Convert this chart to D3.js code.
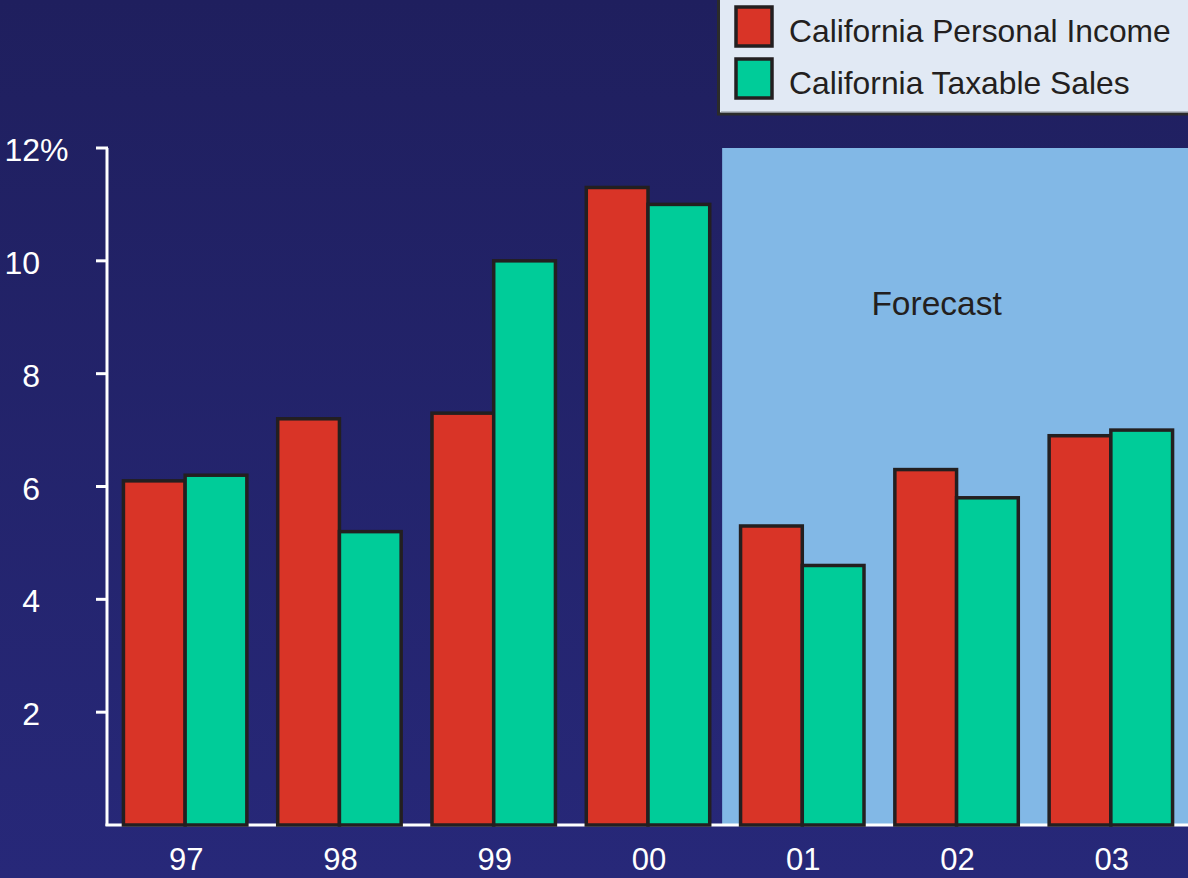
<!DOCTYPE html>
<html>
<head>
<meta charset="utf-8">
<script src="https://cdn.jsdelivr.net/npm/d3@7"></script>
<style>
html,body{margin:0;padding:0;background:#212162;}
svg{display:block;font-family:Arial,"Liberation Sans",sans-serif;}
</style>
</head>
<body>
<svg id="chart" width="1188" height="878"></svg>
<script>
const years = ["97","98","99","00","01","02","03"];
const seriesNames = ["California Personal Income","California Taxable Sales"];
const personalIncome = [6.1, 7.2, 7.3, 11.3, 5.3, 6.3, 6.9];
const taxableSales = [6.2, 5.2, 10.0, 11.0, 4.6, 5.8, 7.0];
const yTicks = [2, 4, 6, 8, 10, 12];
const forecastStart = "01";

const colors = ["#d93427", "#00cc99"];
const W = 1188, H = 878;
const margin = {left: 108, right: 0, top: 148, bottom: 53};

const svg = d3.select("#chart");
const defs = svg.append("defs");
const grad = defs.append("linearGradient").attr("id","bg").attr("x1",0).attr("y1",0).attr("x2",0).attr("y2",1);
grad.append("stop").attr("offset","0%").attr("stop-color","#1f1f5e");
grad.append("stop").attr("offset","100%").attr("stop-color","#272879");
svg.append("rect").attr("width",W).attr("height",H).attr("fill","url(#bg)");

const x0 = d3.scaleBand().domain(years).range([margin.left, W - margin.right]).paddingInner(0.2).paddingOuter(0.1);
const x1 = d3.scaleBand().domain([0,1]).range([0, x0.bandwidth()]);
const y = d3.scaleLinear().domain([0, 12]).range([H - margin.bottom, margin.top]);

// Forecast region
const fi = years.indexOf(forecastStart);
const fx = (x0(forecastStart) + x0(years[fi-1]) + x0.bandwidth()) / 2 - 3;
svg.append("rect").attr("x", fx).attr("y", y(12)).attr("width", W - fx).attr("height", y(0) - y(12)).attr("fill", "#82b8e6");
svg.append("text").attr("x", x0(years[fi+1]) + x0.bandwidth() / 2 - 20).attr("y", y(12) + 167).attr("text-anchor","middle")
  .attr("font-size", 33.5).attr("fill","#231f20").text("Forecast");

// Axes
const axisColor = "#ffffff";
svg.append("line").attr("x1", margin.left - 1).attr("x2", margin.left - 1).attr("y1", y(12)).attr("y2", y(0) + 1)
  .attr("stroke", axisColor).attr("stroke-width", 3);
svg.append("line").attr("x1", margin.left - 2.5).attr("x2", W).attr("y1", y(0)).attr("y2", y(0))
  .attr("stroke", axisColor).attr("stroke-width", 3);
const yAxis = svg.append("g");
yTicks.forEach(t => {
  yAxis.append("line").attr("x1", margin.left - 12).attr("x2", margin.left).attr("y1", y(t)).attr("y2", y(t))
    .attr("stroke", axisColor).attr("stroke-width", 3);
  yAxis.append("text").attr("x", 40).attr("y", y(t) + 13).attr("text-anchor","end")
    .attr("font-size", 32).attr("fill", axisColor).text(t);
  if (t === 12) {
    yAxis.append("text").attr("x", 40).attr("y", y(t) + 13).attr("text-anchor","start")
      .attr("font-size", 32).attr("fill", axisColor).text("%");
  }
});

// Bars
const data = years.map((yr, i) => ({yr, vals: [personalIncome[i], taxableSales[i]]}));
const groups = svg.append("g").selectAll("g").data(data).join("g")
  .attr("transform", d => `translate(${x0(d.yr)},0)`);
groups.selectAll("rect").data(d => d.vals.map((v, k) => ({v, k}))).join("rect")
  .attr("x", d => x1(d.k))
  .attr("y", d => y(d.v))
  .attr("width", x1.bandwidth())
  .attr("height", d => y(0) - y(d.v))
  .attr("fill", d => colors[d.k])
  .attr("stroke", "#231f20").attr("stroke-width", 3.5);

// X labels
svg.append("g").selectAll("text").data(years).join("text")
  .attr("x", d => x0(d) + x0.bandwidth() / 2 + 1)
  .attr("y", 870)
  .attr("text-anchor","middle")
  .attr("font-size", 31).attr("fill", "#ffffff")
  .text(d => d);

// Legend
const lg = svg.append("g");
lg.append("rect").attr("x", 718.5).attr("y", -3).attr("width", 475).attr("height", 117)
  .attr("fill", "#e1e9f4").attr("stroke", "#2b2b2b").attr("stroke-width", 3);
lg.append("line").attr("x1", 721).attr("x2", 1188).attr("y1", 112).attr("y2", 112).attr("stroke","#8a8f99").attr("stroke-width",1);
seriesNames.forEach((name, k) => {
  const yy = 7 + k * 52;
  lg.append("rect").attr("x", 736).attr("y", yy).attr("width", 36).attr("height", 39)
    .attr("fill", colors[k]).attr("stroke", "#231f20").attr("stroke-width", 3.5);
  lg.append("text").attr("x", 789).attr("y", yy + 35).attr("font-size", 31.8).attr("fill", "#231f20").text(name);
});
</script>
</body>
</html>
